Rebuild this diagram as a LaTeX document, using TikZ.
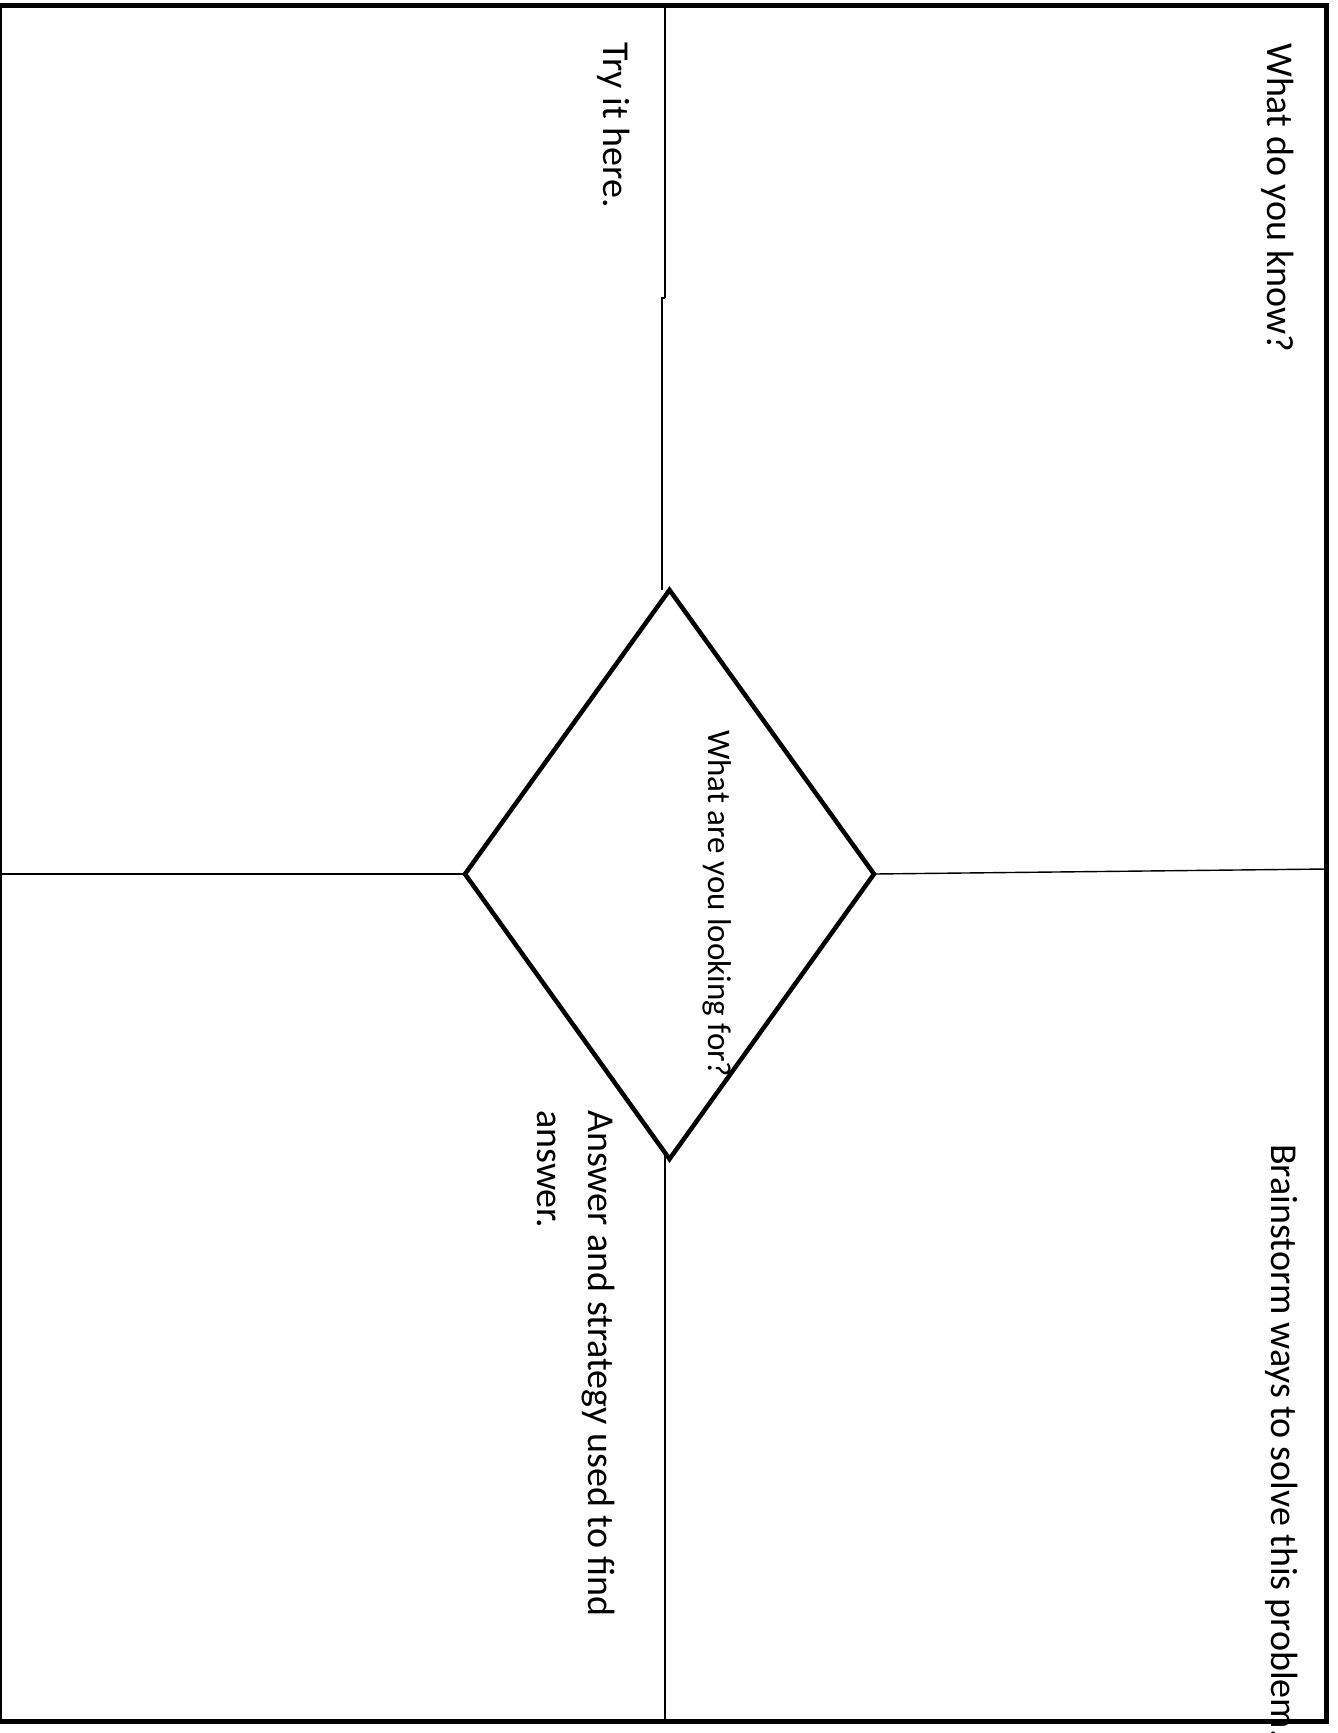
\documentclass[tikz,border=0pt]{standalone}
\usepackage{fontspec}
\setmainfont{Carlito}
\tikzset{
  frame/.style={line width=5pt},
  diam/.style={line width=4.5pt, line join=miter},
  divider/.style={line width=1.4pt},
  lbl/.style={rotate=-90, anchor=base west, inner sep=0pt, font=\fontsize{38}{46}\selectfont},
  smalllbl/.style={rotate=-90, anchor=base west, inner sep=0pt, font=\fontsize{33}{40}\selectfont}
}
\begin{document}
\begin{tikzpicture}[x=1pt,y=-1pt]
\useasboundingbox (0,0) rectangle (1338,1733);
% outer frame
\coordinate (fTL) at (-0.5,5.5);
\coordinate (fBR) at (1326.5,1721);
\draw[frame] (fTL) rectangle (fBR);
% diamond
\coordinate (dT) at (669.5,590);
\coordinate (dR) at (874,874);
\coordinate (dB) at (669.5,1159);
\coordinate (dL) at (465,874);
% dividers
\coordinate (vTop) at (665,5.5);
\coordinate (vJogA) at (665,298);
\coordinate (vJogB) at (662,298);
\coordinate (vTopEnd) at (662,590);
\coordinate (vBotStart) at (665,1155);
\coordinate (vBot) at (665,1721);
\coordinate (hL) at (0,874);
\coordinate (hR) at (1326.5,869);
\draw[line width=2pt] (vTop) -- (vJogA);
\draw[divider] (vJogA) -- (vJogB) -- (vTopEnd);
\draw[divider] (vBotStart) -- (vBot);
\draw[divider] (hL) -- (dL);
\draw[divider] (dR) -- (hR);
\draw[diam] (dT) -- (dR) -- (dB) -- (dL) -- cycle;
% texts
\node[lbl] (know) at (1267,43) {What do you know?};
\node[lbl] (try) at (603,42) {Try it here.};
\node[lbl] (brain) at (1271,1144) {\spaceskip=8pt plus 1pt minus 1pt Brainstorm ways to solve this problem.};
\node[lbl] (ans1) at (588,1110) {Answer and strategy used to find};
\node[lbl] (ans2) at (537,1110) {answer.};
\node[smalllbl] (look) at (708,730) {What are you looking for?};
\end{tikzpicture}
\end{document}
